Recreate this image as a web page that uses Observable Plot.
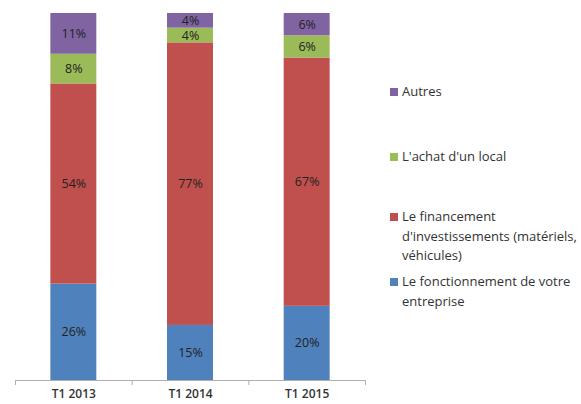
<!DOCTYPE html>
<html>
<head>
<meta charset="utf-8">
<script src="https://cdn.jsdelivr.net/npm/d3@7"></script>
<script src="https://cdn.jsdelivr.net/npm/@observablehq/plot@0.6"></script>
<style>
  html, body { margin: 0; padding: 0; background: #fff; }
  #wrap { position: relative; width: 581px; height: 404px; font-family: "Open Sans", sans-serif; }
  #legend { position: absolute; left: 390px; top: 0; font-size: 13px; color: #333; line-height: 19.5px; }
  .item { position: absolute; left: 0; white-space: nowrap; display: flex; align-items: flex-start; }
  .sw { width: 8px; height: 8px; margin-top: 6px; margin-right: 4px; flex: none; }
</style>
</head>
<body>
<div id="wrap"><div id="chart"></div><div id="legend"></div></div>
<script>
const categories = ["T1 2013", "T1 2014", "T1 2015"];
const series = [
  "Le fonctionnement de votre entreprise",
  "Le financement d'investissements (matériels, véhicules)",
  "L'achat d'un local",
  "Autres"
];
const legendLines = [
  ["Le fonctionnement de votre", "entreprise"],
  ["Le financement", "d'investissements (matériels,", "véhicules)"],
  ["L'achat d'un local"],
  ["Autres"]
];
const fonctionnement = [26, 15, 20];
const financement = [54, 77, 67];
const achat = [8, 4, 6];
const autres = [11, 4, 6];
const colors = ["#4F81BD", "#C0504D", "#9BBB59", "#8064A2"];

const valuesBySeries = [fonctionnement, financement, achat, autres];
const data = [];
categories.forEach((c, i) => {
  series.forEach((s, j) => data.push({cat: c, series: s, value: valuesBySeries[j][i]}));
});

const W = 581, H = 404, mL = 15, mR = 216, mT = 13, mB = 24;
const step = (W - mL - mR) / categories.length;

const chart = Plot.plot({
  width: W, height: H,
  marginLeft: mL, marginRight: mR, marginTop: mT, marginBottom: mB,
  style: {fontFamily: "Open Sans", fontSize: "13px", color: "#333", background: "transparent"},
  x: {domain: categories, paddingInner: 0.606, paddingOuter: 0.303, round: false, label: null},
  y: {domain: [0, 1], axis: null},
  color: {domain: series, range: colors},
  marks: [
    Plot.barY(data, Plot.stackY({x: "cat", y: "value", fill: "series", z: "series", order: series, offset: "normalize"})),
    Plot.ruleY([0], {stroke: "#b0b0b0"}),
    Plot.axisX({tickSize: 0, tickPadding: 9, fontSize: 12, fill: "#333", fontWeight: "600", label: null}),
    Plot.axisX({tickSize: 5, tickFormat: () => "", dx: -step / 2, stroke: "#b0b0b0", label: null}),
    Plot.axisX({ticks: [categories[categories.length - 1]], tickSize: 5, tickFormat: () => "", dx: step / 2, stroke: "#b0b0b0", label: null}),
    Plot.text(data, Plot.stackY({x: "cat", y: "value", z: "series", text: d => d.value + "%", order: series, offset: "normalize", fill: "#222", fontSize: 12.5}))
  ]
});
document.getElementById("chart").appendChild(chart);

const tops = [272, 207, 147, 82];
const legend = document.getElementById("legend");
series.forEach((s, j) => {
  const item = document.createElement("div");
  item.className = "item";
  item.style.top = tops[j] + "px";
  const sw = document.createElement("div");
  sw.className = "sw";
  sw.style.background = colors[j];
  const txt = document.createElement("div");
  txt.innerHTML = legendLines[j].join("<br>");
  item.appendChild(sw);
  item.appendChild(txt);
  legend.appendChild(item);
});
</script>
</body>
</html>
